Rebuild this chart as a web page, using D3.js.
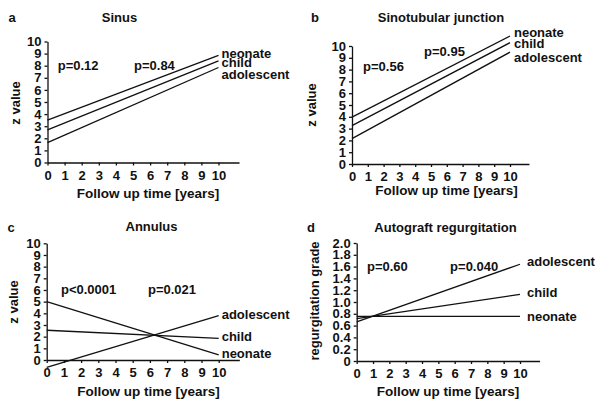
<!DOCTYPE html>
<html>
<head>
<meta charset="utf-8">
<script src="https://cdn.jsdelivr.net/npm/d3@7"></script>
<style>
  body { margin: 0; background: #fff; }
  text { font-family: "Liberation Sans", Arial, Helvetica, sans-serif; font-weight: bold; fill: #111; }
</style>
</head>
<body>
<svg id="chart" width="598" height="399"></svg>
<script>
// ---- data ----
const groups = ["neonate", "child", "adolescent"];
const years = [0, 10];
const yearTicks = d3.range(0, 11);
const zTicks = d3.range(0, 11);
const gradeTicks = [0, 0.2, 0.4, 0.6, 0.8, 1.0, 1.2, 1.4, 1.6, 1.8, 2.0];

// fitted z value / grade at start and end of follow-up, per group
const sinusStart = [3.5, 2.7, 1.65];
const sinusEnd = [8.85, 8.4, 7.85];
const stjStart = [3.97, 3.25, 2.15];
const stjEnd = [10.85, 10.28, 9.48];
const annulusStart = [5.0, 2.55, -0.63];
const annulusEnd = [0.43, 1.86, 3.8];
const regurgStart = [0.755, 0.72, 0.665];
const regurgEnd = [0.755, 1.13, 1.64];

const sinusP = ["p=0.12", "p=0.84"];
const stjP = ["p=0.56", "p=0.95"];
const annulusP = ["p<0.0001", "p=0.021"];
const regurgP = ["p=0.60", "p=0.040"];

// ---- panel setup ----
const panels = [
  { letter: "a", title: "Sinus", yLabel: "z value", ticks: zTicks, yMax: 10,
    start: sinusStart, end: sinusEnd, p: sinusP,
    box: { x0: 47.5, x10: 218.5, y0: 162.5, yTop: 41.5 },
    letterPos: [12, 17], titlePos: [119.5, 17], yLabelPos: [15, 103], xLabelPos: [148, 193],
    pPos: [[0.6, 8.05], [5.06, 8.05]], labelDx: 3, labelDy: [-2, 2, 6.5] },
  { letter: "b", title: "Sinotubular junction", yLabel: "z value", ticks: zTicks, yMax: 10,
    start: stjStart, end: stjEnd, p: stjP,
    box: { x0: 352, x10: 510, y0: 164, yTop: 46 },
    letterPos: [315, 17], titlePos: [441, 17], yLabelPos: [311, 105], xLabelPos: [446.5, 190],
    pPos: [[0.7, 8.3], [4.56, 9.5]], labelDx: 4, labelDy: [-4, 0.5, 5] },
  { letter: "c", title: "Annulus", yLabel: "z value", ticks: zTicks, yMax: 10,
    start: annulusStart, end: annulusEnd, p: annulusP,
    box: { x0: 46.7, x10: 218.7, y0: 360, yTop: 243.3 },
    letterPos: [11, 227], titlePos: [151.5, 226], yLabelPos: [13, 302], xLabelPos: [148.5, 391.5],
    pPos: [[0.83, 6.08], [5.89, 6.08]], labelDx: 3, labelDy: [-2, -2, -1] },
  { letter: "d", title: "Autograft regurgitation", yLabel: "regurgitation grade", ticks: gradeTicks, yMax: 2,
    start: regurgStart, end: regurgEnd, p: regurgP,
    box: { x0: 356.7, x10: 520, y0: 361, yTop: 243 },
    letterPos: [311, 227], titlePos: [445.5, 227], yLabelPos: [314, 301], xLabelPos: [448, 391.5],
    pPos: [[0.63, 1.61], [5.72, 1.61]], labelDx: 7, labelDy: [0, -2, -3] }
];

const svg = d3.select("#chart");
const FS = 13;

panels.forEach(pn => {
  const b = pn.box;
  const unit = (b.x10 - b.x0) / 10;
  // the x axis line runs a little past the last tick
  const xAxisScale = d3.scaleLinear().domain([0, 11.2]).range([b.x0, b.x0 + 11.2 * unit]);
  const x = d3.scaleLinear().domain([0, 10]).range([b.x0, b.x10]);
  const y = d3.scaleLinear().domain([0, pn.yMax]).range([b.y0, b.yTop]);
  const g = svg.append("g");

  // axes
  const fmt = pn.yMax === 2 ? (d => d === 0 ? "0" : d.toFixed(1)) : d3.format("d");
  const ya = g.append("g").attr("transform", `translate(${b.x0},0)`)
    .call(d3.axisLeft(y).tickValues(pn.ticks).tickFormat(fmt).tickSize(3).tickSizeOuter(0).tickPadding(3));
  const xa = g.append("g").attr("transform", `translate(0,${b.y0})`)
    .call(d3.axisBottom(xAxisScale).tickValues(yearTicks).tickFormat(d3.format("d")).tickSize(3).tickSizeOuter(0).tickPadding(5));
  [ya, xa].forEach(a => {
    a.selectAll("path, line").attr("stroke", "#111").attr("stroke-width", 1.3);
    a.selectAll("text").attr("font-size", FS).attr("fill", "#111")
      .style("font-family", '"Liberation Sans", Arial, sans-serif').style("font-weight", "bold");
  });

  // regression lines with group labels
  groups.forEach((grp, i) => {
    const pts = [[years[0], pn.start[i]], [years[1], pn.end[i]]];
    g.append("path")
      .attr("d", d3.line().x(d => x(d[0])).y(d => y(d[1]))(pts))
      .attr("fill", "none").attr("stroke", "#111").attr("stroke-width", 1.3);
    g.append("text")
      .attr("x", x(years[1]) + pn.labelDx)
      .attr("y", y(pn.end[i]) + pn.labelDy[i])
      .attr("dy", "0.35em").attr("font-size", FS)
      .text(grp);
  });

  // p values
  pn.p.forEach((t, i) => {
    g.append("text")
      .attr("x", x(pn.pPos[i][0])).attr("y", y(pn.pPos[i][1]))
      .attr("dy", "0.35em").attr("font-size", FS).text(t);
  });

  // panel letter, title and axis labels
  g.append("text").attr("x", pn.letterPos[0]).attr("y", pn.letterPos[1])
    .attr("dy", "0.35em").attr("text-anchor", "middle").attr("font-size", FS).text(pn.letter);
  g.append("text").attr("x", pn.titlePos[0]).attr("y", pn.titlePos[1])
    .attr("dy", "0.35em").attr("text-anchor", "middle").attr("font-size", FS).text(pn.title);
  g.append("text").attr("x", pn.xLabelPos[0]).attr("y", pn.xLabelPos[1])
    .attr("dy", "0.35em").attr("text-anchor", "middle").attr("font-size", 13.5).text("Follow up time [years]");
  g.append("text")
    .attr("transform", `translate(${pn.yLabelPos[0]},${pn.yLabelPos[1]}) rotate(-90)`)
    .attr("dy", "0.35em").attr("text-anchor", "middle").attr("font-size", FS).text(pn.yLabel);
});
</script>
</body>
</html>
